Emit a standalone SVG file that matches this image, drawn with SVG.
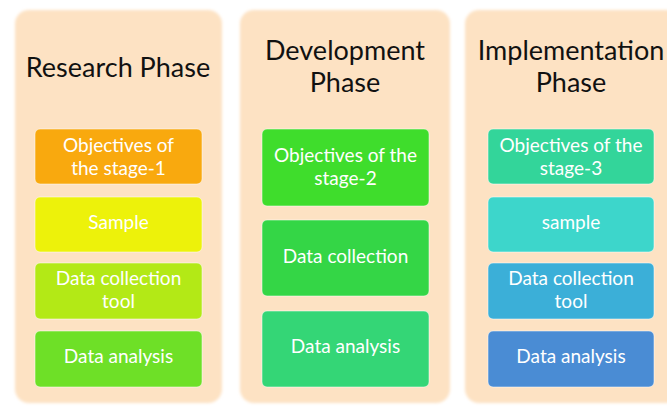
<svg xmlns="http://www.w3.org/2000/svg" width="667" height="406" viewBox="0 0 667 406">
<defs>
<filter id="soft" x="-5%" y="-5%" width="110%" height="110%"><feGaussianBlur stdDeviation="1.5"/></filter>
</defs>
<style>
.panel{fill:#FDE2C3;filter:url(#soft)}
.box{stroke:#ffffff;stroke-opacity:0.5;stroke-width:1}
.title{font-family:Lato,"Liberation Sans",sans-serif;font-size:27px;fill:#111111;text-anchor:middle}
.lbl{font-family:Lato,"Liberation Sans",sans-serif;font-size:19px;fill:#ffffff;text-anchor:middle}
</style>
<rect width="667" height="406" fill="#ffffff"/>
<g id="research-phase">
<rect class="panel" x="15" y="10" width="207" height="393" rx="14"/>
<text class="title" x="118" y="77">Research Phase</text>
<g id="r-objectives"><rect class="box" x="35" y="129" width="167" height="55" rx="5" fill="#F9A90E"/>
<text class="lbl" x="118.5" y="152">Objectives of</text><text class="lbl" x="118.5" y="175">the stage-1</text></g>
<g id="r-sample"><rect class="box" x="35" y="197" width="167" height="55" rx="5" fill="#EDF20A"/>
<text class="lbl" x="118.5" y="229">Sample</text></g>
<g id="r-tool"><rect class="box" x="35" y="263" width="167" height="56" rx="5" fill="#B3E916"/>
<text class="lbl" x="118.5" y="285">Data collection</text><text class="lbl" x="118.5" y="308">tool</text></g>
<g id="r-analysis"><rect class="box" x="35" y="331" width="167" height="56" rx="5" fill="#6EE027"/>
<text class="lbl" x="118.5" y="363">Data analysis</text></g>
</g>
<g id="development-phase">
<rect class="panel" x="240" y="10" width="210" height="393" rx="14"/>
<text class="title" x="345" y="60">Development</text>
<text class="title" x="345" y="92">Phase</text>
<g id="d-objectives"><rect class="box" x="262" y="129" width="167" height="77" rx="5" fill="#3FDD2C"/>
<text class="lbl" x="345.5" y="162">Objectives of the</text><text class="lbl" x="345.5" y="185">stage-2</text></g>
<g id="d-collection"><rect class="box" x="262" y="220" width="167" height="76" rx="5" fill="#34D646"/>
<text class="lbl" x="345.5" y="263">Data collection</text></g>
<g id="d-analysis"><rect class="box" x="262" y="311" width="167" height="76" rx="5" fill="#34D676"/>
<text class="lbl" x="345.5" y="353">Data analysis</text></g>
</g>
<g id="implementation-phase">
<rect class="panel" x="465" y="10" width="215" height="393" rx="14"/>
<text class="title" x="571" y="60">Implementation</text>
<text class="title" x="571" y="92">Phase</text>
<g id="i-objectives"><rect class="box" x="488" y="129" width="166" height="55" rx="5" fill="#33D59A"/>
<text class="lbl" x="571" y="152">Objectives of the</text><text class="lbl" x="571" y="175">stage-3</text></g>
<g id="i-sample"><rect class="box" x="488" y="197" width="166" height="55" rx="5" fill="#3DD6CB"/>
<text class="lbl" x="571" y="229">sample</text></g>
<g id="i-tool"><rect class="box" x="488" y="263" width="166" height="56" rx="5" fill="#3BAFD8"/>
<text class="lbl" x="571" y="285">Data collection</text><text class="lbl" x="571" y="308">tool</text></g>
<g id="i-analysis"><rect class="box" x="488" y="331" width="166" height="56" rx="5" fill="#4A8CD4"/>
<text class="lbl" x="571" y="363">Data analysis</text></g>
</g>
<g id="connectors"/>
</svg>
